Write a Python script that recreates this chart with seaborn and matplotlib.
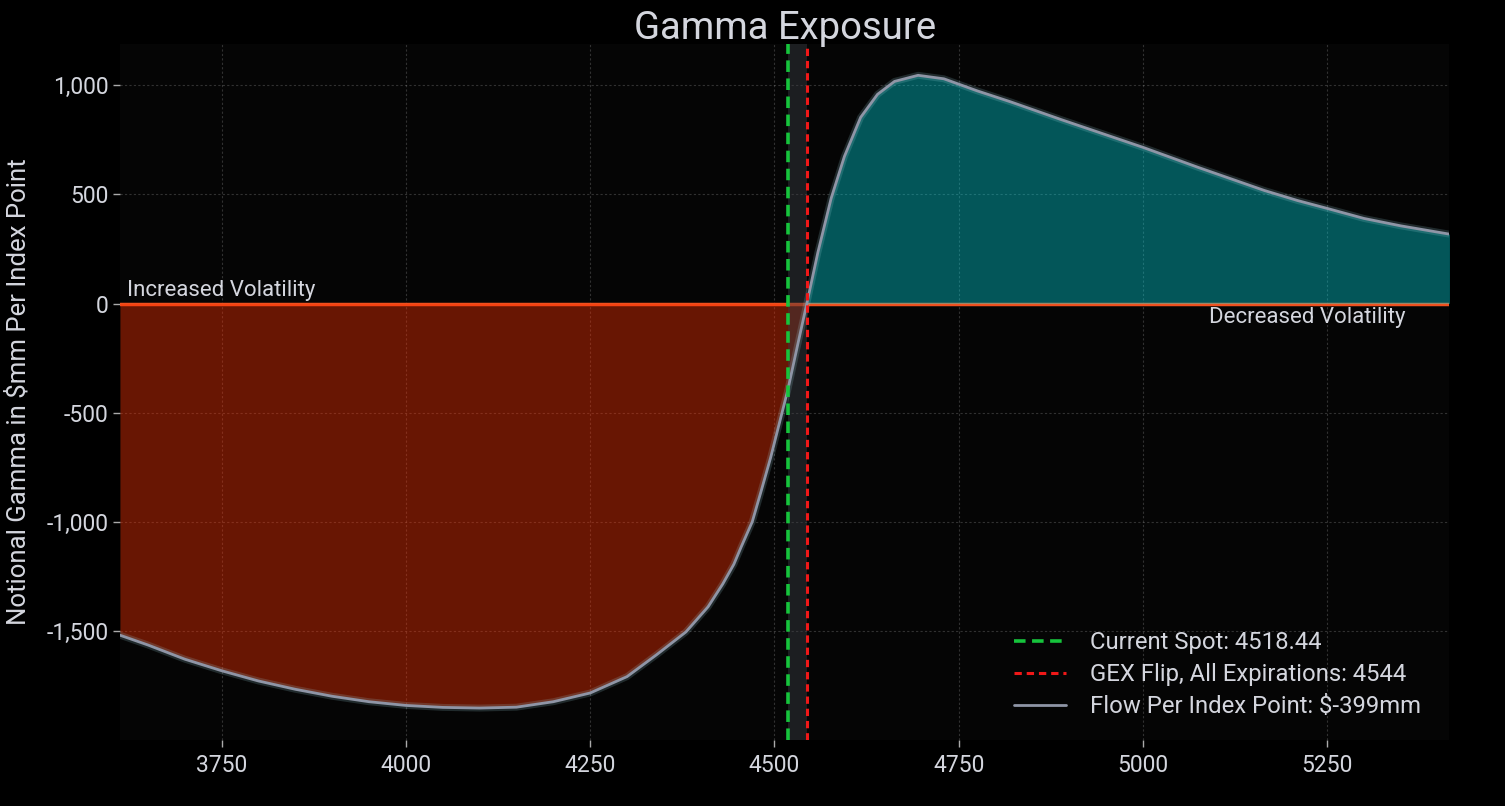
import numpy as np
import pandas as pd
import seaborn as sns
import matplotlib.pyplot as plt
from matplotlib.ticker import FuncFormatter

# =========================
# DATA
# =========================

STRIKES = [3612, 3650, 3700, 3750, 3800, 3850, 3900, 3950, 4000, 4050,
           4100, 4150, 4200, 4250, 4300, 4340, 4380, 4410, 4430, 4445,
           4455, 4470, 4482, 4495, 4507, 4518, 4532, 4544, 4559, 4577,
           4595, 4617, 4640, 4663, 4695, 4730, 4775, 4820, 4890, 5000,
           5075, 5165, 5210, 5250, 5300, 5350, 5416]

GAMMA = [-1520, -1565, -1630, -1683, -1730, -1768, -1800, -1825, -1842, -1851,
         -1854, -1850, -1825, -1785, -1710, -1610, -1505, -1390, -1285, -1195,
         -1115, -1000, -860, -705, -545, -399, -183, 0, 234, 482,
         674, 853, 959, 1018, 1046, 1030, 975, 925, 842, 716,
         624, 518, 472, 436, 390, 356, 318]

SPOT = 4518.44
FLIP = 4544
FLOW = -399

XTICKS = [3750, 4000, 4250, 4500, 4750, 5000, 5250]
YTICKS = [-1500, -1000, -500, 0, 500, 1000]

TEXT_COLOR = "#d4d6de"
FONT = ["Roboto", "DejaVu Sans"]

# =========================
# STYLE
# =========================

sns.set_theme(style="dark")
plt.rcParams["font.family"] = FONT
plt.rcParams["figure.facecolor"] = "black"
plt.rcParams["axes.facecolor"] = "#050505"
plt.rcParams["text.color"] = TEXT_COLOR
plt.rcParams["xtick.color"] = TEXT_COLOR
plt.rcParams["ytick.color"] = TEXT_COLOR
plt.rcParams["axes.labelcolor"] = TEXT_COLOR

df = pd.DataFrame({"strike": STRIKES, "gamma": GAMMA})

fig = plt.figure(figsize=(15.05, 8.06), dpi=100)
ax = fig.add_axes([0.0797, 0.082, 0.8834, 0.863])

# zero line sits under the fills so the teal tints it
ax.axhline(0, color="#f0501e", lw=2.5, zorder=1)

x = df["strike"].to_numpy()
y = df["gamma"].to_numpy()
ax.fill_between(x, y, 0, where=y <= 0, interpolate=True,
                color="#ff3000", alpha=0.40, lw=0, zorder=2)
ax.fill_between(x, y, 0, where=y >= 0, interpolate=True,
                color="#00e6f0", alpha=0.36, lw=0, zorder=2)

ax.axvspan(SPOT, FLIP, color="#3a3d44", alpha=0.45, lw=0, zorder=2)

# glow under the curve
ax.plot(x, y, color="#9fd6e0", lw=5, alpha=0.18, zorder=3)
sns.lineplot(data=df, x="strike", y="gamma", ax=ax, color="#b9bcc6", lw=2,
             zorder=4, label=f"Flow Per Index Point: ${FLOW}mm")

ax.axvline(SPOT, color="#16c43c", lw=2.6, ls=(0, (3.2, 1.8)), zorder=5,
           label=f"Current Spot: {SPOT}")
ax.axvline(FLIP, color="#f01818", lw=2.2, ls=(0, (2.4, 1.6)), zorder=5,
           label=f"GEX Flip, All Expirations: {FLIP}")

ax.set_xlim(STRIKES[0], STRIKES[-1])
ax.set_ylim(-2000, 1188)
ax.set_xticks(XTICKS)
ax.set_yticks(YTICKS)
ax.yaxis.set_major_formatter(FuncFormatter(lambda v, p: f"{int(v):,}"))

ax.grid(True, color="#9a9a9a", alpha=0.3, ls=(0, (2, 2)), lw=0.8)
for s in ax.spines.values():
    s.set_visible(False)
ax.tick_params(axis="both", which="major", length=5, width=1, color="#aaaaaa",
               labelsize=16.5, bottom=True, left=True)
ax.tick_params(axis="x", pad=5)
ax.tick_params(axis="y", pad=3)

ax.set_xlabel("")
ax.set_ylabel("Notional Gamma in \\$mm Per Index Point", fontsize=18.5, labelpad=12)
ax.set_title("Gamma Exposure", fontsize=27.5, color=TEXT_COLOR, pad=4)

ax.text(3621, 12, "Increased Volatility", fontsize=16, color=TEXT_COLOR,
        ha="left", va="bottom", zorder=6)
ax.text(5357, -18, "Decreased Volatility", fontsize=16, color=TEXT_COLOR,
        ha="right", va="top", zorder=6)

handles, labels = ax.get_legend_handles_labels()
order = [labels.index(l) for l in labels if l.startswith("Current")] + \
        [labels.index(l) for l in labels if l.startswith("GEX")] + \
        [labels.index(l) for l in labels if l.startswith("Flow")]
handles[order[2]].set_color("#8f95a6")
leg = ax.legend([handles[i] for i in order], [labels[i] for i in order],
                loc="lower right", bbox_to_anchor=(0.995, 0.0), frameon=False,
                fontsize=17.2, handlelength=2.2, handletextpad=1.0, labelspacing=0.38)
for t in leg.get_texts():
    t.set_color(TEXT_COLOR)

fig.savefig("out.png", dpi=100, facecolor="black")
